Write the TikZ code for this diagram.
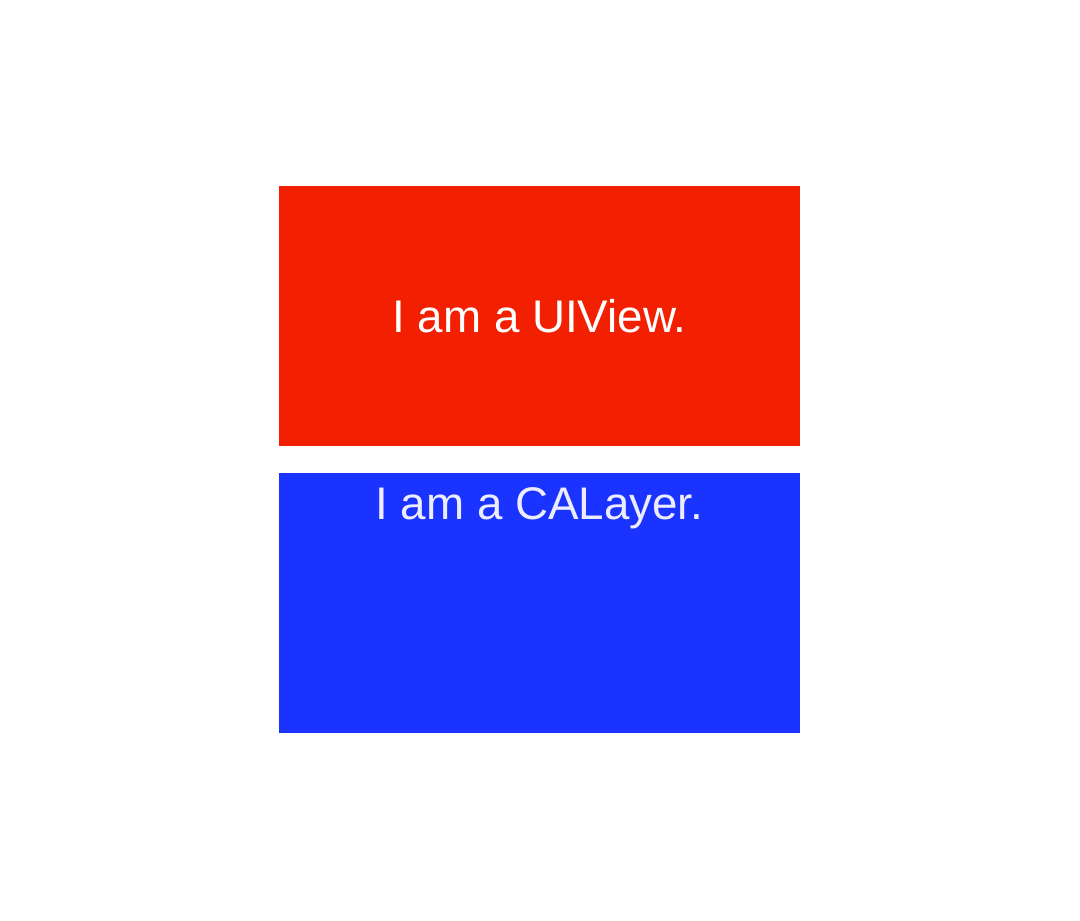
\documentclass[tikz,border=0pt]{standalone}
\usepackage{fontspec}
\setmainfont{Liberation Sans}
\usetikzlibrary{calc, positioning}

\definecolor{viewred}{RGB}{242,32,0}
\definecolor{layerblue}{RGB}{26,51,255}
\definecolor{layertext}{RGB}{236,236,255}

\begin{document}
\begin{tikzpicture}[x=0.01cm, y=-0.01cm,
  every node/.style={font=\fontsize{13}{15}\selectfont},
  box/.style={minimum width=5.21cm, minimum height=2.6cm, inner sep=0pt, outer sep=0pt}]

\useasboundingbox (0,0) rectangle (1080,920);

% UIView
\node[box, fill=viewred, text=white] (view) at (539.5,316) {I am a UIView.};

% CALayer, text pinned to the top edge
\node[box, fill=layerblue, below=0.27cm of view] (layer) {};
\node[anchor=base, text=layertext] (layerlabel) at ($(layer.north)+(0,46)$) {I am a CALayer.};

\end{tikzpicture}
\end{document}
